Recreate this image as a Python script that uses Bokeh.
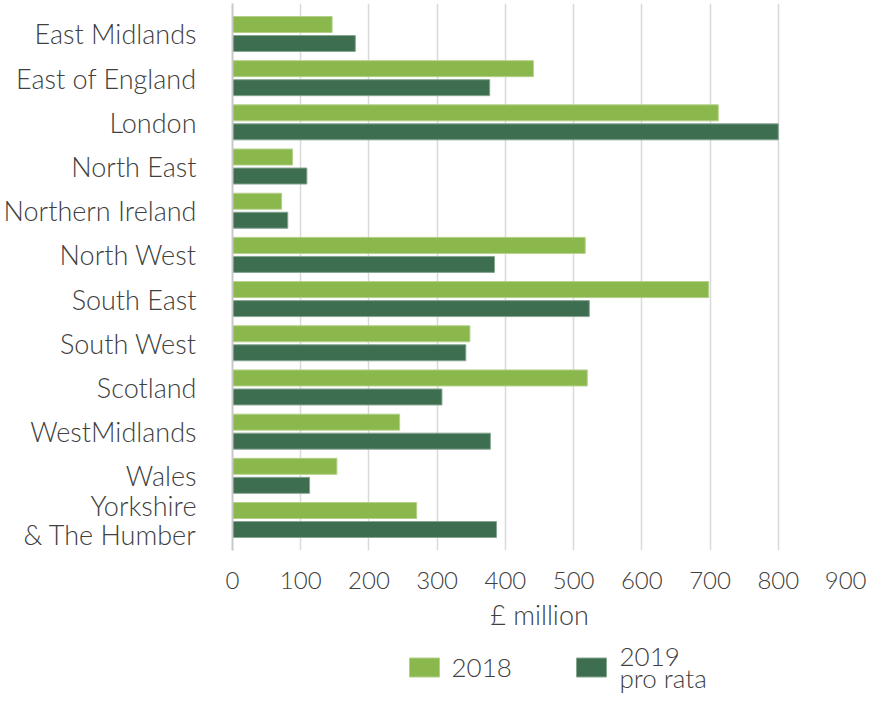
from bokeh.plotting import figure
from bokeh.models import ColumnDataSource, FactorRange, FixedTicker, Range1d
from bokeh.layouts import column
from bokeh.transform import dodge
from bokeh.core.properties import value
from bokeh.embed import file_html
from bokeh.resources import INLINE

regions = ["East Midlands", "East of England", "London", "North East", "Northern Ireland",
           "North West", "South East", "South West", "Scotland", "WestMidlands", "Wales",
           "Yorkshire\n& The Humber"]
v2018 = [146, 441, 712, 88, 72, 517, 698, 348, 520, 245, 153, 270]
v2019 = [180, 377, 800, 109, 81, 384, 523, 342, 307, 378, 113, 387]
series_labels = ["2018", "2019\npro rata"]
x_ticks = [0, 100, 200, 300, 400, 500, 600, 700, 800, 900]

FONT = "Lato Light, Lato"
TXT = "#404040"
C18 = "#8bb84c"
C19 = "#3d6e50"
E18 = "#b3d08a"
E19 = "#86a592"

src = ColumnDataSource(dict(region=regions, v2018=v2018, v2019=v2019))

p = figure(width=866, height=640, output_backend="svg", toolbar_location=None,
           y_range=FactorRange(factors=list(reversed(regions)), range_padding=0.19,
                               range_padding_units="absolute"),
           x_range=(0, 900), min_border_left=232, min_border_right=20,
           min_border_top=3, min_border_bottom=90, outline_line_color=None)

p.hbar(y=dodge("region", 0.215, range=p.y_range), right="v2018", left=0, height=0.362,
       source=src, fill_color=C18, line_color=E18, line_width=1)
p.hbar(y=dodge("region", -0.215, range=p.y_range), right="v2019", left=0, height=0.362,
       source=src, fill_color=C19, line_color=E19, line_width=1)

p.xaxis.ticker = FixedTicker(ticks=x_ticks)
p.xaxis.axis_line_color = None
p.xaxis.major_tick_line_color = None
p.xaxis.minor_tick_line_color = None
p.xaxis.major_label_text_font = FONT
p.xaxis.major_label_text_font_size = "24px"
p.xaxis.major_label_text_color = TXT
p.xaxis.major_label_standoff = 15
p.xaxis.axis_label = "£ million"
p.xaxis.axis_label_text_font = FONT
p.xaxis.axis_label_text_font_size = "27px"
p.xaxis.axis_label_text_font_style = "normal"
p.xaxis.axis_label_text_color = TXT
p.xaxis.axis_label_standoff = 6

p.yaxis.axis_line_color = "#c8c8c8"
p.yaxis.axis_line_width = 2
p.yaxis.major_tick_line_color = None
p.yaxis.minor_tick_line_color = None
p.yaxis.major_tick_out = 0
p.yaxis.major_tick_in = 0
p.yaxis.major_label_text_font = FONT
p.yaxis.major_label_text_font_size = "27px"
p.yaxis.major_label_text_color = TXT
p.yaxis.major_label_text_line_height = 0.9
p.yaxis.major_label_standoff = 36

p.ygrid.grid_line_color = None
p.xgrid.grid_line_color = "#d9d9d9"
p.xgrid.grid_line_width = 1.5

# legend strip (pixel-like coordinates matching the page, y pointing down)
lg = figure(width=866, height=54, output_backend="svg", toolbar_location=None,
            x_range=Range1d(232, 846), y_range=Range1d(54, 0),
            min_border_left=232, min_border_right=20, min_border_top=0,
            min_border_bottom=0, outline_line_color=None)
lg.axis.visible = False
lg.grid.visible = False
sq_x = [424, 591]
lg.rect(x=sq_x, y=[27, 27], width=30, height=19, fill_color=[C18, C19],
        line_color=[E18, E19])
lines18 = series_labels[0].split("\n")
lines19 = series_labels[1].split("\n")
lg.text(x=[451], y=[27], text=lines18, text_font=value(FONT), text_font_size="26px",
        text_color=TXT, text_baseline="alphabetic", text_align="left")
lg.text(x=[619] * len(lines19), y=[16, 37][:len(lines19)], text=lines19,
        text_font=value(FONT), text_font_size="26px", text_color=TXT,
        text_baseline="alphabetic", text_align="left")

layout = column(p, lg, spacing=0)
open("out.html", "w").write(file_html(layout, INLINE))
